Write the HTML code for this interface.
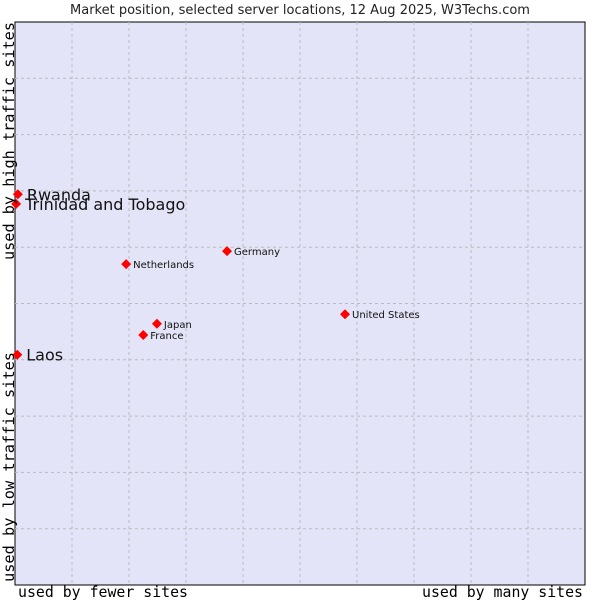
<!DOCTYPE html>
<html><head><meta charset="utf-8"><style>
body{margin:0;background:#fff;width:600px;height:600px;overflow:hidden}
svg{display:block}
</style></head><body>
<svg id="chart" width="600" height="600">
<text x="300" y="14" text-anchor="middle" font-family="DejaVu Sans, sans-serif" font-size="13" fill="#222">Market position, selected server locations, 12 Aug 2025, W3Techs.com</text>
<rect x="15" y="22" width="570" height="563" fill="#e4e4f8" stroke="#000" stroke-width="1"/>
<g id="grid"></g>
<g id="points"></g>
<text x="18" y="597" textLength="170" lengthAdjust="spacingAndGlyphs" font-family="DejaVu Sans Mono, Liberation Mono, monospace" font-size="15" fill="#000">used by fewer sites</text>
<text x="422" y="597" textLength="161" lengthAdjust="spacingAndGlyphs" font-family="DejaVu Sans Mono, Liberation Mono, monospace" font-size="15" fill="#000">used by many sites</text>
<text transform="translate(14,260) rotate(-90)" textLength="238" lengthAdjust="spacingAndGlyphs" font-family="DejaVu Sans Mono, Liberation Mono, monospace" font-size="15" fill="#000">used by high traffic sites</text>
<text transform="translate(14,582) rotate(-90)" textLength="230" lengthAdjust="spacingAndGlyphs" font-family="DejaVu Sans Mono, Liberation Mono, monospace" font-size="15" fill="#000">used by low traffic sites</text>
</svg>
<script>
const names=["Rwanda","Trinidad and Tobago","Laos","Netherlands","Germany","United States","Japan","France"];
const xVals=[0.5,0.2,0.4,19.5,37.2,57.9,24.9,22.5];
const yVals=[69.4,67.7,40.9,57.0,59.3,48.1,46.4,44.4];
const bigLabel=[true,true,true,false,false,false,false,false];
const L=15,T=22,W=570,H=563;
const sx=v=>L+v/100*W, sy=v=>T+H-v/100*H;
const ns="http://www.w3.org/2000/svg";
const grid=document.getElementById('grid'),pts=document.getElementById('points');
for(let i=1;i<10;i++){
 let l=document.createElementNS(ns,'line');
 
 
 l.setAttribute('x1',sx(i*10));l.setAttribute('x2',sx(i*10));l.setAttribute('y1',T);l.setAttribute('y2',T+H);
 l.setAttribute('stroke','#bbb');l.setAttribute('stroke-dasharray','3,3');grid.appendChild(l);
 let h=document.createElementNS(ns,'line');
 
 
 h.setAttribute('y1',sy(i*10));h.setAttribute('y2',sy(i*10));h.setAttribute('x1',L);h.setAttribute('x2',L+W);
 h.setAttribute('stroke','#bbb');h.setAttribute('stroke-dasharray','3,3');grid.appendChild(h);
}
names.forEach((n,i)=>{
 const x=sx(xVals[i]),y=sy(yVals[i]);
 let p=document.createElementNS(ns,'polygon');
 
 
 p.setAttribute('points',`${x},${y-5} ${x+5},${y} ${x},${y+5} ${x-5},${y}`);
 p.setAttribute('fill','#f00');pts.appendChild(p);
 let t=document.createElementNS(ns,'text');
 
 
 t.setAttribute('x',x+(bigLabel[i]?9:7));t.setAttribute('y',y+(bigLabel[i]?6:4));
 t.setAttribute('font-family','DejaVu Sans, sans-serif');
 t.setAttribute('font-size',bigLabel[i]?'16':'10');t.setAttribute('fill','#111');
 t.textContent=n;pts.appendChild(t);
});
</script>
</body></html>
